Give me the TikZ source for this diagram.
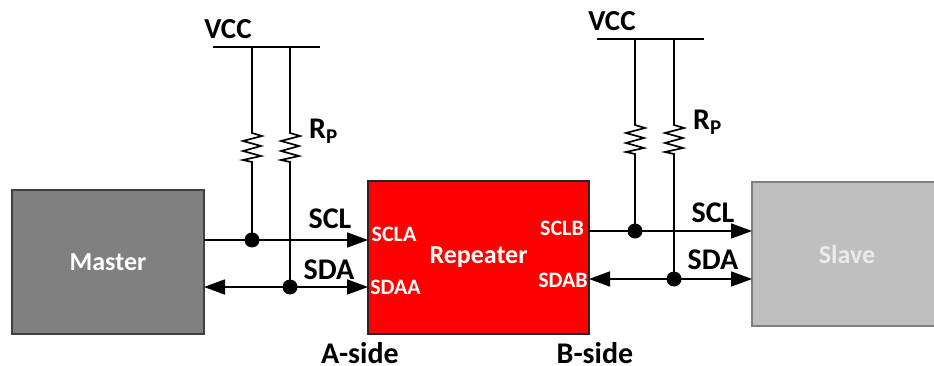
\documentclass[tikz,border=0pt]{standalone}
\usepackage{fontspec}
\setmainfont{Carlito}
\usetikzlibrary{arrows.meta}
\tikzset{
  x=1pt,y=-1pt,
  block/.style={draw=#1,line width=1.6pt,inner sep=0pt,outer sep=0pt},
  wire/.style={line width=1.7pt,black},
  rail/.style={line width=2pt,black},
  bus/.style={wire,-{Triangle[length=21pt,width=15pt]}},
  bibus/.style={wire,{Triangle[length=21pt,width=15pt]}-{Triangle[length=21pt,width=15pt]}},
  joint/.style={circle,fill=black,draw=none,minimum size=15pt,inner sep=0pt},
  lbl/.style={font=\bfseries\fontsize{30}{30}\selectfont,text=black,inner sep=0pt,anchor=center},
  sidelbl/.style={font=\bfseries\fontsize{29}{29}\selectfont,text=black,inner sep=0pt,anchor=center},
  pin/.style={font=\bfseries\fontsize{22}{22}\selectfont,text=white,inner sep=0pt,anchor=center},
  title/.style={font=\bfseries\fontsize{26}{26}\selectfont,inner sep=0pt},
}
\newcommand{\zigzag}[2]{% top coordinate x,y
  -- (#1,#2) -- (#1+10,#2+3) -- (#1-9,#2+8) -- (#1+9,#2+13) -- (#1-9,#2+18) -- (#1+9,#2+23) -- (#1-9,#2+27) -- (#1,#2+29)}
\begin{document}
\begin{tikzpicture}
\useasboundingbox (0,0) rectangle (934,366);
% blocks
\node[block=black!75,fill=black!50,minimum width=192pt,minimum height=144pt] (master) at (108,262) {};
\node[block=black!85,fill=red,minimum width=221pt,minimum height=153pt] (rep) at (478.5,257.5) {};
\fill[black!25] (752,182) rectangle (934,326);
\draw[black!50,line width=1.6pt] (934,182) -- (752,182) -- (752,326) -- (934,326);
\coordinate (slaveL) at (752,231);
\coordinate (slaveM) at (752,279);
\node[title,text=white] (mastertxt) at (108,262.5) {Master};
\node[title,text=white] (reptxt) at (478.5,257) {Repeater};
\node[title,text=black!8] (slave) at (847,254) {Slave};
% left side
\coordinate (railAl) at (213,47);
\coordinate (railAr) at (320,47);
\coordinate (topA1) at (252,47);
\coordinate (topA2) at (290,47);
\node[joint] (dotA1) at (252,240) {};
\node[joint] (dotA2) at (290,287) {};
\coordinate (mSCL) at (204,240);
\coordinate (mSDA) at (204,287);
\coordinate (rSCLA) at (368,240);
\coordinate (rSDAA) at (368,287);
\draw[rail] (railAl) -- (railAr);
\draw[wire,line join=miter] (topA1) \zigzag{252}{133} -- (dotA1.center);
\draw[wire,line join=miter] (topA2) \zigzag{290}{133} -- (dotA2.center);
\draw[bus] (mSCL) -- (rSCLA);
\draw[bibus] (mSDA) -- (rSDAA);
% right side
\coordinate (railBl) at (597,39);
\coordinate (railBr) at (704,39);
\coordinate (topB1) at (635,39);
\coordinate (topB2) at (674,39);
\node[joint] (dotB1) at (635,231) {};
\node[joint] (dotB2) at (674,279) {};
\coordinate (rSCLB) at (589,231);
\coordinate (rSDAB) at (589,279);
\draw[rail] (railBl) -- (railBr);
\draw[wire,line join=miter] (topB1) \zigzag{635}{125} -- (dotB1.center);
\draw[wire,line join=miter] (topB2) \zigzag{674}{125} -- (dotB2.center);
\draw[bus] (rSCLB) -- (slaveL);
\draw[bibus] (rSDAB) -- (slaveM);
% labels
\node[sidelbl] (vccA) at (228,29) {VCC};
\node[sidelbl] (vccB) at (612,21) {VCC};
\node[lbl] (rpA) at (323.5,131) {R\textsubscript{P}};
\node[lbl] (rpB) at (707.5,122) {R\textsubscript{P}};
\node[lbl] (sclA) at (330,219) {SCL};
\node[lbl] (sdaA) at (329,270) {SDA};
\node[lbl] (sclB) at (713,213) {SCL};
\node[lbl] (sdaB) at (713,260) {SDA};
\node[pin] (scla) at (394,234) {SCLA};
\node[pin] (sdaa) at (395.5,287) {SDAA};
\node[pin] (sclb) at (562,228) {SCLB};
\node[pin] (sdab) at (563,280) {SDAB};
\node[lbl] (aside) at (360,353.5) {A-side};
\node[lbl] (bside) at (595,353.5) {B-side};
\end{tikzpicture}
\end{document}
